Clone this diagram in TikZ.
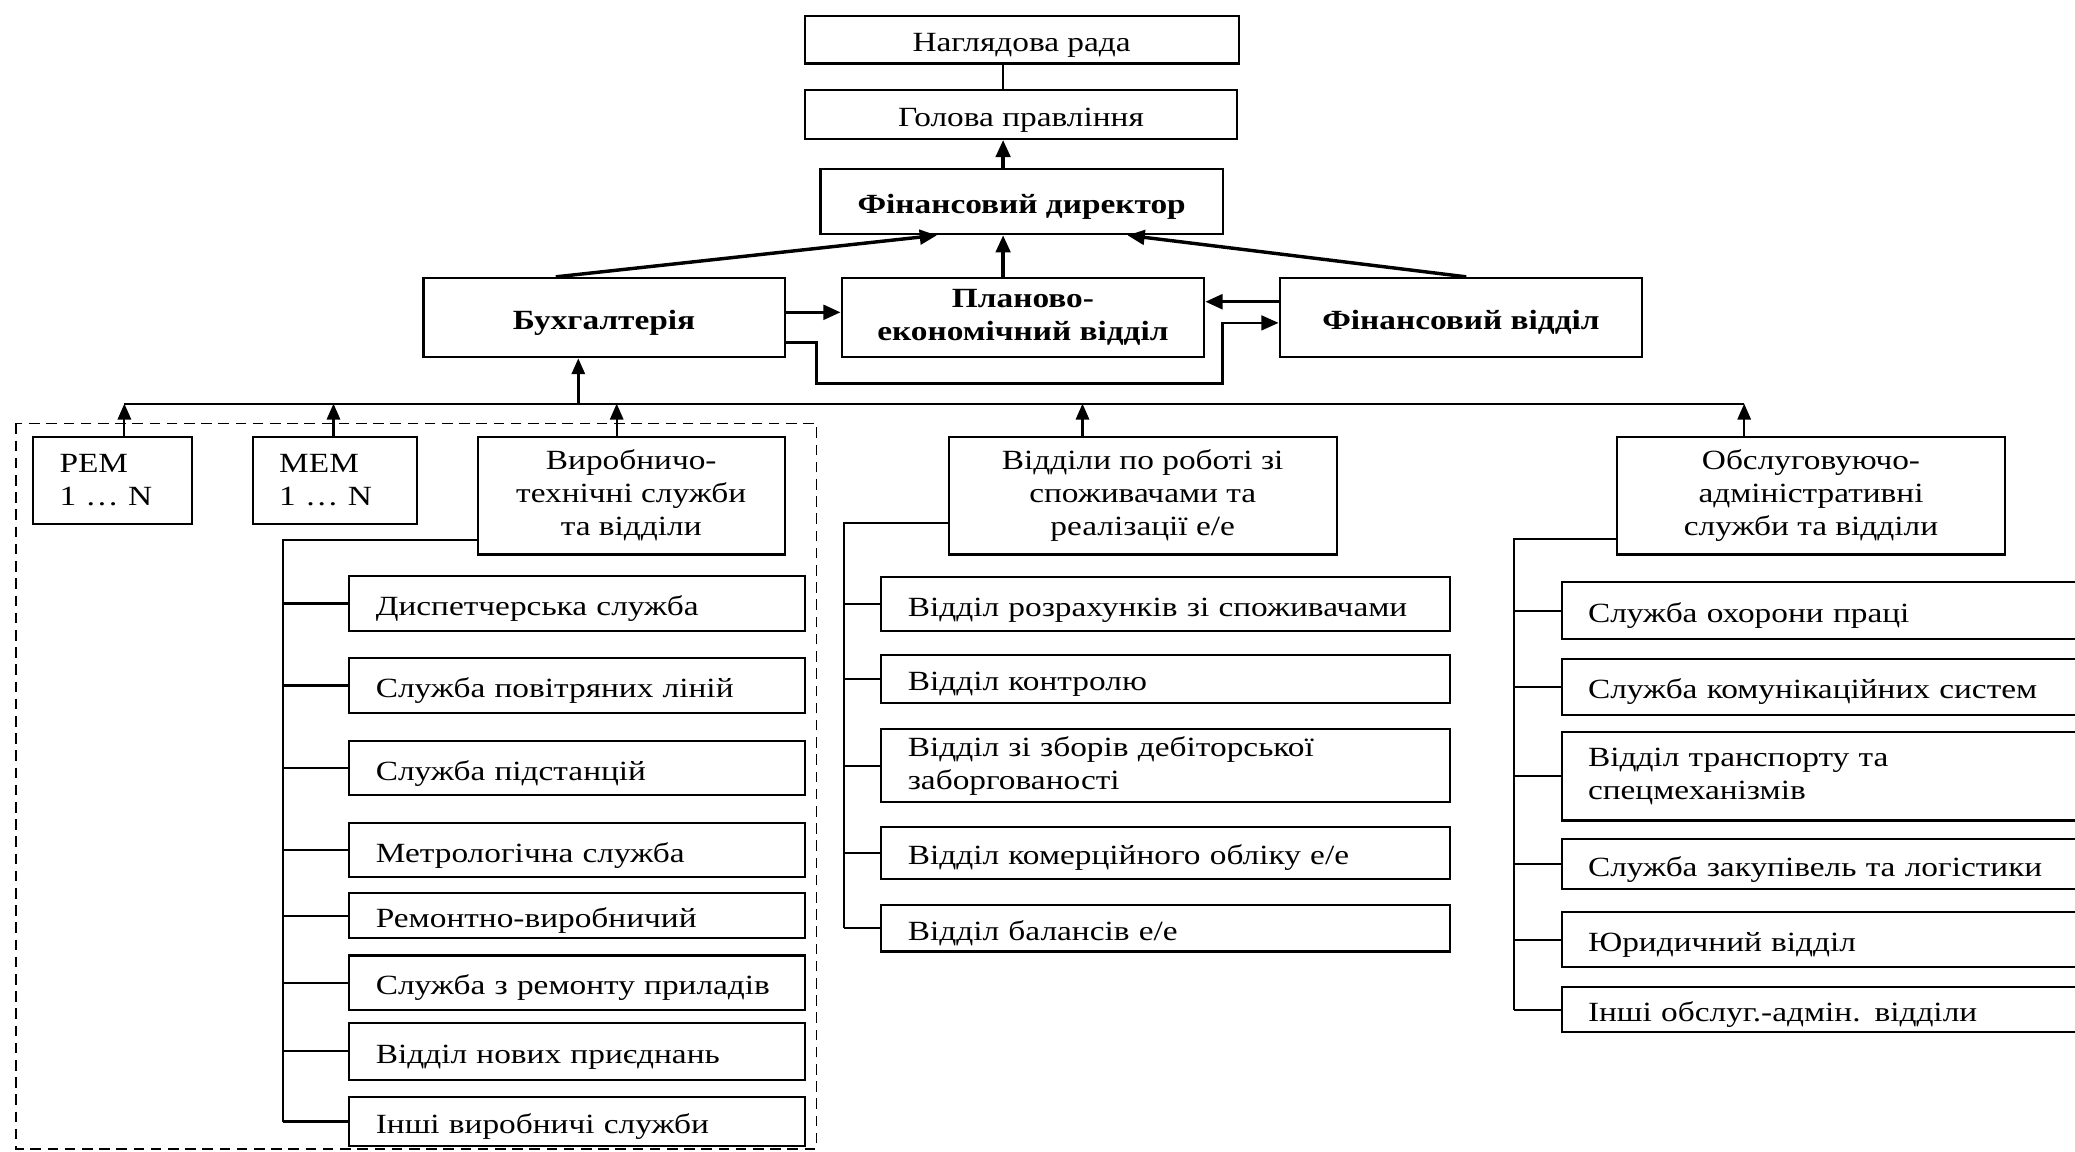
\documentclass[tikz,border=0pt]{standalone}
\usepackage{fontspec}
\setmainfont[FakeStretch=1.2]{Liberation Serif}
\usetikzlibrary{arrows.meta}

\begin{document}
\begin{tikzpicture}[x=1pt,y=1pt,
  font=\fontsize{21}{25}\selectfont,
  box/.style={draw, line width=1.6pt, inner sep=0pt},
  one/.style={text height=18pt, text depth=0pt},
  boldtxt/.style={font=\fontsize{21}{25}\selectfont\bfseries},
  lbox/.style={box, align=left, inner xsep=20pt, text width=#1},
  cbox/.style={box, align=center},
  ln/.style={line width=1.6pt},
  arr/.style={line width=1.6pt, -{Triangle[length=12pt,width=10pt]}},
  barr/.style={line width=2.6pt, -{Triangle[length=13pt,width=11pt]}},
]
\useasboundingbox (0,0) rectangle (1568,-870);
\clip (0,0) rectangle (1568,-870);

% management level
\node[box, one, minimum width=328, minimum height=36] (nr) at (772,-30) {Наглядова рада};
\node[box, one, minimum width=327, minimum height=37] (gp) at (771.5,-86.5) {Голова правління};
\node[box, one, boldtxt, minimum width=304, minimum height=49] (fd) at (772,-152.5) {Фінансовий директор};

% financial departments
\node[box, one, boldtxt, minimum width=273, minimum height=60] (buh) at (456.5,-240) {Бухгалтерія};
\node[cbox, boldtxt, minimum width=274, minimum height=60] (pev) at (773,-240) {Планово-\\економічний відділ};
\node[box, one, boldtxt, minimum width=274, minimum height=60] (fv) at (1104,-240) {Фінансовий відділ};

% operating divisions
\node[lbox=80, minimum height=66] (rem) at (85,-363) {РЕМ\\1 … N};
\node[lbox=84, minimum height=66] (mem) at (253,-363) {МЕМ\\1 … N};
\node[cbox, minimum width=232, minimum height=89] (vts) at (477,-374.5) {Виробничо-\\технічні служби\\та відділи};
\node[cbox, minimum width=293, minimum height=89] (vsp) at (863.5,-374.5) {Відділи по роботі зі\\споживачами та\\реалізації е/е};
\node[cbox, minimum width=293, minimum height=89] (oas) at (1368.5,-374.5) {Обслуговуючо-\\адміністративні\\служби та відділи};

% production services
\node[lbox=304, one, minimum height=42] (d1) at (436,-456) {Диспетчерська служба};
\node[lbox=304, one, minimum height=42] (d2) at (436,-518) {Служба повітряних ліній};
\node[lbox=304, one, minimum height=41] (d3) at (436,-580.5) {Служба підстанцій};
\node[lbox=304, one, minimum height=41] (d4) at (436,-642.5) {Метрологічна служба};
\node[lbox=304, one, minimum height=34] (d5) at (436,-692) {Ремонтно-виробничий};
\node[lbox=304, one, minimum height=41] (d6) at (436,-742.5) {Служба з ремонту приладів};
\node[lbox=304, one, minimum height=43] (d7) at (436,-794.5) {Відділ нових приєднань};
\node[lbox=304, one, minimum height=37] (d8) at (436,-847.5) {Інші виробничі служби};

% customer and sales departments
\node[lbox=390, one, minimum height=41] (m1) at (881,-456.5) {Відділ розрахунків зі споживачами};
\node[lbox=390, one, minimum height=36] (m2) at (881,-513) {Відділ контролю};
\node[lbox=390, minimum height=55] (m3) at (881,-578.5) {Відділ зі зборів дебіторської\\заборгованості};
\node[lbox=390, one, minimum height=39] (m4) at (881,-644.5) {Відділ комерційного обліку е/е};
\node[lbox=390, one, minimum height=35] (m5) at (881,-701.5) {Відділ балансів е/е};

% administrative services
\node[lbox=380, one, minimum height=43] (r1) at (1390,-461.5) {Служба охорони праці};
\node[lbox=380, one, minimum height=42] (r2) at (1390,-519) {Служба комунікаційних систем};
\node[lbox=380, minimum height=67] (r3) at (1390,-586.5) {Відділ транспорту та\\спецмеханізмів};
\node[lbox=380, one, minimum height=38] (r4) at (1390,-653) {Служба закупівель та логістики};
\node[lbox=380, one, minimum height=42] (r5) at (1390,-710) {Юридичний відділ};
\node[lbox=380, one, minimum height=34] (r6) at (1390,-763) {Інші обслуг.-адмін. відділи};

% dashed frame round the production block
\draw[line width=1.4pt, dash pattern=on 8pt off 5pt] (12,-320) rectangle (617,-868);

% reference points
\coordinate (cx) at (758,0);
\coordinate (bl) at (420,0);
\coordinate (fl) at (708,0);
\coordinate (br) at (1108,0);
\coordinate (fr) at (852,0);
\coordinate (h1) at (0,-236);
\coordinate (h2) at (0,-228);
\coordinate (h3) at (0,-259);
\coordinate (h4) at (0,-244);
\coordinate (ax1) at (94,-305);
\coordinate (ax2) at (252,-305);
\coordinate (ax3) at (466,-305);
\coordinate (ax4) at (818,-305);
\coordinate (ax5) at (1318,-305);
\coordinate (bx) at (437,-305);
\coordinate (tL) at (214,-408);
\coordinate (tM) at (638,-395);
\coordinate (tR) at (1144,-407);

% top links
\draw[ln] (nr.south -| cx) -- (gp.north -| cx);
\draw[barr] (fd.north -| cx) -- (gp.south -| cx);
\draw[barr] (pev.north -| cx) -- (fd.south -| cx);
\draw[barr] (buh.north -| bl) -- (fd.south -| fl);
\draw[barr] (fv.north -| br) -- (fd.south -| fr);

% links between financial departments
\draw[barr] (buh.east |- h1) -- (pev.west |- h1);
\draw[barr] (fv.west |- h2) -- (pev.east |- h2);
\draw[line width=2pt, -{Triangle[length=13pt,width=11pt]}]
  (buh.east |- h3) -- (617,-259) -- (617,-290) -- (924,-290) -- (924,-244) -- (fv.west |- h4);

% common bus
\draw[ln] (ax1) -- (ax5);
\draw[line width=2pt, -{Triangle[length=12pt,width=10pt]}] (bx) -- (buh.south -| bx);
\draw[arr] (rem.north -| ax1) -- (ax1);
\draw[arr] (mem.north -| ax2) -- (ax2);
\draw[arr] (vts.north -| ax3) -- (ax3);
\draw[arr] (vsp.north -| ax4) -- (ax4);
\draw[arr] (oas.north -| ax5) -- (ax5);

% trunks and branches
\draw[ln] (vts.west |- tL) -- (tL) -- (tL |- d8.west);
\foreach \i in {1,...,8} \draw[ln] (tL |- d\i.west) -- (d\i.west);
\draw[ln] (vsp.west |- tM) -- (tM) -- (tM |- m5.west);
\foreach \i in {1,...,5} \draw[ln] (tM |- m\i.west) -- (m\i.west);
\draw[ln] (oas.west |- tR) -- (tR) -- (tR |- r6.west);
\foreach \i in {1,...,6} \draw[ln] (tR |- r\i.west) -- (r\i.west);
\end{tikzpicture}
\end{document}
